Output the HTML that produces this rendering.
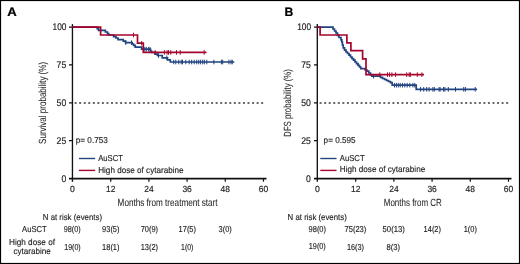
<!DOCTYPE html>
<html><head><meta charset="utf-8"><style>
html,body{margin:0;padding:0;background:#fff;}
svg{display:block;will-change:transform;}
text{text-rendering:geometricPrecision;font-family:"Liberation Sans", sans-serif;stroke:currentColor;}
</style></head><body>
<svg width="520" height="264" viewBox="0 0 520 264">
<rect x="0" y="0" width="520" height="264" fill="#fff"/>
<path d="M74.6 103H264.5" stroke="#3a3a3a" stroke-width="1.7" stroke-dasharray="2 2.55" fill="none"/>
<path d="M72.45 24.1V181.8" stroke="#111" stroke-width="1.35" fill="none"/>
<path d="M69 178.6H266.5" stroke="#111" stroke-width="1.55" fill="none"/>
<path d="M69 27.10H72.45M69 64.97H72.45M69 102.85H72.45M69 140.72H72.45M110.70 178.6V181.8M148.89 178.6V181.8M187.09 178.6V181.8M225.28 178.6V181.8M263.48 178.6V181.8" stroke="#111" stroke-width="1.2" fill="none"/>
<polyline points="72.50,27.10 97.20,27.10 97.20,28.60 98.50,28.60 98.50,30.30 105.40,30.30 105.40,32.00 107.50,32.00 107.50,33.60 108.70,33.60 108.70,35.00 113.60,35.00 113.60,36.60 116.00,36.60 116.00,38.00 118.00,38.00 118.00,39.60 123.30,39.60 123.30,41.20 125.50,41.20 125.50,42.70 132.20,42.70 132.20,44.00 133.60,44.00 133.60,45.30 135.20,45.30 135.20,47.10 141.60,47.10 141.60,49.20 150.50,49.20 150.50,51.00 151.50,51.00 151.50,52.40 155.00,52.40 155.00,54.20 157.40,54.20 157.40,55.50 162.30,55.50 162.30,57.80 167.50,57.80 167.50,59.80 170.30,59.80 170.30,62.00 234.30,62.00" stroke="#21437f" stroke-width="1.7" fill="none"/>
<path d="M125.80 40.40V45.00M131.50 40.40V45.00M144.80 46.90V51.50M146.30 46.90V51.50M148.60 46.90V51.50M150.00 46.90V51.50M158.50 53.20V57.80M166.80 55.50V60.10M173.75 59.70V64.30M175.80 59.70V64.30M178.75 59.70V64.30M181.25 59.70V64.30M182.50 59.70V64.30M185.80 59.70V64.30M189.20 59.70V64.30M191.70 59.70V64.30M194.20 59.70V64.30M196.70 59.70V64.30M198.75 59.70V64.30M200.60 59.70V64.30M202.70 59.70V64.30M204.30 59.70V64.30M206.80 59.70V64.30M213.90 59.70V64.30M221.40 59.70V64.30M222.70 59.70V64.30M228.90 59.70V64.30M231.00 59.70V64.30M232.25 59.70V64.30" stroke="#21437f" stroke-width="1" fill="none"/>
<polyline points="72.50,27.10 100.60,27.10 100.60,35.00 137.50,35.00 137.50,43.20 143.30,43.20 143.30,52.40 206.50,52.40" stroke="#a5052d" stroke-width="1.7" fill="none"/>
<path d="M133.50 32.70V37.30M141.70 40.90V45.50M155.20 50.10V54.70M164.40 50.10V54.70M167.10 50.10V54.70M168.50 50.10V54.70M170.80 50.10V54.70M176.50 50.10V54.70M180.20 50.10V54.70M204.20 50.10V54.70" stroke="#a5052d" stroke-width="1" fill="none"/>
<path d="M78.9 158.5H95.2" stroke="#21437f" stroke-width="1.4"/>
<path d="M78.9 170.4H95.2" stroke="#a5052d" stroke-width="1.4"/>
<path d="M319.6 103H509.5" stroke="#3a3a3a" stroke-width="1.7" stroke-dasharray="2 2.55" fill="none"/>
<path d="M317.3 24.1V181.8" stroke="#111" stroke-width="1.35" fill="none"/>
<path d="M314 178.6H511.5" stroke="#111" stroke-width="1.55" fill="none"/>
<path d="M314 27.10H317.3M314 64.97H317.3M314 102.85H317.3M314 140.72H317.3M355.70 178.6V181.8M393.89 178.6V181.8M432.09 178.6V181.8M470.28 178.6V181.8M508.48 178.6V181.8" stroke="#111" stroke-width="1.2" fill="none"/>
<polyline points="317.50,27.10 333.00,27.10 333.00,29.00 334.50,29.00 334.50,31.00 336.00,31.00 336.00,33.00 337.50,33.00 337.50,35.30 339.00,35.30 339.00,37.50 341.00,37.50 341.00,39.80 341.80,39.80 341.80,42.00 342.40,42.00 342.40,45.00 343.20,45.00 343.20,47.80 344.50,47.80 344.50,50.20 346.00,50.20 346.00,52.00 347.50,52.00 347.50,53.50 349.00,53.50 349.00,55.20 350.50,55.20 350.50,57.00 352.00,57.00 352.00,58.60 353.50,58.60 353.50,60.20 355.00,60.20 355.00,62.00 356.50,62.00 356.50,63.60 358.00,63.60 358.00,65.40 359.50,65.40 359.50,67.00 360.80,67.00 360.80,68.60 365.20,68.60 365.20,70.00 367.00,70.00 367.00,71.20 368.80,71.20 368.80,73.00 370.50,73.00 370.50,74.80 371.80,74.80 371.80,76.20 380.50,76.20 380.50,77.30 382.50,77.30 382.50,78.50 384.50,78.50 384.50,79.50 386.50,79.50 386.50,80.50 388.50,80.50 388.50,81.50 390.50,81.50 390.50,82.70 392.20,82.70 392.20,85.20 416.20,85.20 416.20,89.30 477.10,89.30" stroke="#21437f" stroke-width="1.7" fill="none"/>
<path d="M373.60 73.90V78.50M394.50 82.90V87.50M396.40 82.90V87.50M398.30 82.90V87.50M400.20 82.90V87.50M402.50 82.90V87.50M404.80 82.90V87.50M407.20 82.90V87.50M409.80 82.90V87.50M412.90 82.90V87.50M414.80 82.90V87.50M420.60 87.00V91.60M423.70 87.00V91.60M426.70 87.00V91.60M429.10 87.00V91.60M432.90 87.00V91.60M434.30 87.00V91.60M439.10 87.00V91.60M440.10 87.00V91.60M443.50 87.00V91.60M444.90 87.00V91.60M448.30 87.00V91.60M455.50 87.00V91.60M463.70 87.00V91.60M465.40 87.00V91.60M475.20 87.00V91.60" stroke="#21437f" stroke-width="1" fill="none"/>
<polyline points="317.50,27.10 320.10,27.10 320.10,35.00 346.90,35.00 346.90,42.90 350.90,42.90 350.90,50.60 362.60,50.60 362.60,58.90 366.00,58.90 366.00,74.65 424.00,74.65" stroke="#a5052d" stroke-width="1.7" fill="none"/>
<path d="M379.80 72.35V76.95M387.50 72.35V76.95M389.60 72.35V76.95M391.90 72.35V76.95M395.60 72.35V76.95M406.70 72.35V76.95M409.20 72.35V76.95M410.40 72.35V76.95M417.30 72.35V76.95M421.90 72.35V76.95" stroke="#a5052d" stroke-width="1" fill="none"/>
<path d="M320.3 158.5H336.5" stroke="#21437f" stroke-width="1.4"/>
<path d="M320.3 170.4H336.5" stroke="#a5052d" stroke-width="1.4"/>
<text x="7.3" y="16.1" font-size="12.2" stroke-width="0.2" textLength="9.5" lengthAdjust="spacingAndGlyphs" font-weight="bold" fill="#000" color="#000">A</text>
<text x="284.4" y="16.1" font-size="12.2" stroke-width="0.2" font-weight="bold" fill="#000" color="#000">B</text>
<text x="52.6" y="29.9" font-size="9.6" stroke-width="0.18" textLength="13.9" lengthAdjust="spacingAndGlyphs" fill="#231f20" color="#231f20">100</text>
<text x="56.6" y="67.7" font-size="9.6" stroke-width="0.18" textLength="9.6" lengthAdjust="spacingAndGlyphs" fill="#231f20" color="#231f20">75</text>
<text x="56.6" y="105.8" font-size="9.6" stroke-width="0.18" textLength="9.6" lengthAdjust="spacingAndGlyphs" fill="#231f20" color="#231f20">50</text>
<text x="56.6" y="143.5" font-size="9.6" stroke-width="0.18" textLength="9.6" lengthAdjust="spacingAndGlyphs" fill="#231f20" color="#231f20">25</text>
<text x="61.5" y="182.0" font-size="9.6" stroke-width="0.18" textLength="4.8" lengthAdjust="spacingAndGlyphs" fill="#231f20" color="#231f20">0</text>
<text x="70.1" y="192.3" font-size="8.9" stroke-width="0.18" textLength="4.8" lengthAdjust="spacingAndGlyphs" fill="#231f20" color="#231f20">0</text>
<text x="106.0" y="192.3" font-size="8.9" stroke-width="0.18" textLength="9.4" lengthAdjust="spacingAndGlyphs" fill="#231f20" color="#231f20">12</text>
<text x="144.19" y="192.3" font-size="8.9" stroke-width="0.18" textLength="9.4" lengthAdjust="spacingAndGlyphs" fill="#231f20" color="#231f20">24</text>
<text x="182.39" y="192.3" font-size="8.9" stroke-width="0.18" textLength="9.4" lengthAdjust="spacingAndGlyphs" fill="#231f20" color="#231f20">36</text>
<text x="220.58" y="192.3" font-size="8.9" stroke-width="0.18" textLength="9.4" lengthAdjust="spacingAndGlyphs" fill="#231f20" color="#231f20">48</text>
<text x="258.78" y="192.3" font-size="8.9" stroke-width="0.18" textLength="9.4" lengthAdjust="spacingAndGlyphs" fill="#231f20" color="#231f20">60</text>
<text x="297.2" y="29.9" font-size="9.6" stroke-width="0.18" textLength="13.9" lengthAdjust="spacingAndGlyphs" fill="#231f20" color="#231f20">100</text>
<text x="301.2" y="67.7" font-size="9.6" stroke-width="0.18" textLength="9.6" lengthAdjust="spacingAndGlyphs" fill="#231f20" color="#231f20">75</text>
<text x="301.2" y="105.8" font-size="9.6" stroke-width="0.18" textLength="9.6" lengthAdjust="spacingAndGlyphs" fill="#231f20" color="#231f20">50</text>
<text x="301.2" y="143.5" font-size="9.6" stroke-width="0.18" textLength="9.6" lengthAdjust="spacingAndGlyphs" fill="#231f20" color="#231f20">25</text>
<text x="306.1" y="182.0" font-size="9.6" stroke-width="0.18" textLength="4.8" lengthAdjust="spacingAndGlyphs" fill="#231f20" color="#231f20">0</text>
<text x="315.1" y="192.3" font-size="8.9" stroke-width="0.18" textLength="4.8" lengthAdjust="spacingAndGlyphs" fill="#231f20" color="#231f20">0</text>
<text x="351.0" y="192.3" font-size="8.9" stroke-width="0.18" textLength="9.4" lengthAdjust="spacingAndGlyphs" fill="#231f20" color="#231f20">12</text>
<text x="389.19" y="192.3" font-size="8.9" stroke-width="0.18" textLength="9.4" lengthAdjust="spacingAndGlyphs" fill="#231f20" color="#231f20">24</text>
<text x="427.39" y="192.3" font-size="8.9" stroke-width="0.18" textLength="9.4" lengthAdjust="spacingAndGlyphs" fill="#231f20" color="#231f20">36</text>
<text x="465.58" y="192.3" font-size="8.9" stroke-width="0.18" textLength="9.4" lengthAdjust="spacingAndGlyphs" fill="#231f20" color="#231f20">48</text>
<text x="503.78" y="192.3" font-size="8.9" stroke-width="0.18" textLength="9.4" lengthAdjust="spacingAndGlyphs" fill="#231f20" color="#231f20">60</text>
<text x="45.8" y="143.9" font-size="10.4" stroke-width="0.05" textLength="82" lengthAdjust="spacingAndGlyphs" transform="rotate(-90 45.8 143.9)" fill="#231f20" color="#231f20">Survival probability (%)</text>
<text x="291.2" y="136.9" font-size="10.4" stroke-width="0.05" textLength="67.8" lengthAdjust="spacingAndGlyphs" transform="rotate(-90 291.2 136.9)" fill="#231f20" color="#231f20">DFS probability (%)</text>
<text x="117.6" y="206.3" font-size="10.4" stroke-width="0.05" textLength="100" lengthAdjust="spacingAndGlyphs" fill="#231f20" color="#231f20">Months from treatment start</text>
<text x="383.8" y="206.3" font-size="10.4" stroke-width="0.05" textLength="58" lengthAdjust="spacingAndGlyphs" fill="#231f20" color="#231f20">Months from CR</text>
<text x="75.8" y="142.9" font-size="8.6" stroke-width="0.15" textLength="32" lengthAdjust="spacingAndGlyphs" fill="#231f20" color="#231f20">p= 0.753</text>
<text x="323.6" y="142.8" font-size="8.6" stroke-width="0.15" textLength="32" lengthAdjust="spacingAndGlyphs" fill="#231f20" color="#231f20">p= 0.595</text>
<text x="98.2" y="160.6" font-size="8.6" stroke-width="0.15" textLength="24.8" lengthAdjust="spacingAndGlyphs" fill="#231f20" color="#231f20">AuSCT</text>
<text x="98.2" y="172.6" font-size="8.6" stroke-width="0.15" textLength="85.4" lengthAdjust="spacingAndGlyphs" fill="#231f20" color="#231f20">High dose of cytarabine</text>
<text x="339.8" y="160.5" font-size="8.6" stroke-width="0.15" textLength="24.8" lengthAdjust="spacingAndGlyphs" fill="#231f20" color="#231f20">AuSCT</text>
<text x="339.8" y="172.3" font-size="8.6" stroke-width="0.15" textLength="85.4" lengthAdjust="spacingAndGlyphs" fill="#231f20" color="#231f20">High dose of cytarabine</text>
<text x="42.8" y="219.8" font-size="8.6" stroke-width="0.15" textLength="59.2" lengthAdjust="spacingAndGlyphs" fill="#231f20" color="#231f20">N at risk (events)</text>
<text x="287.6" y="219.6" font-size="8.6" stroke-width="0.15" textLength="59.2" lengthAdjust="spacingAndGlyphs" fill="#231f20" color="#231f20">N at risk (events)</text>
<text x="22.1" y="232.2" font-size="8.6" stroke-width="0.15" textLength="24.6" lengthAdjust="spacingAndGlyphs" fill="#231f20" color="#231f20">AuSCT</text>
<text x="9.0" y="244.8" font-size="8.6" stroke-width="0.15" textLength="46" lengthAdjust="spacingAndGlyphs" fill="#231f20" color="#231f20">High dose of</text>
<text x="13.5" y="254.3" font-size="8.6" stroke-width="0.15" textLength="37.3" lengthAdjust="spacingAndGlyphs" fill="#231f20" color="#231f20">cytarabine</text>
<text x="63.8" y="232.3" font-size="8.6" stroke-width="0.15" textLength="16.9" lengthAdjust="spacingAndGlyphs" fill="#231f20" color="#231f20">98(0)</text>
<text x="102.1" y="232.3" font-size="8.6" stroke-width="0.15" textLength="17.4" lengthAdjust="spacingAndGlyphs" fill="#231f20" color="#231f20">93(5)</text>
<text x="140.7" y="232.3" font-size="8.6" stroke-width="0.15" textLength="17.4" lengthAdjust="spacingAndGlyphs" fill="#231f20" color="#231f20">70(9)</text>
<text x="178.6" y="232.3" font-size="8.6" stroke-width="0.15" textLength="17.4" lengthAdjust="spacingAndGlyphs" fill="#231f20" color="#231f20">17(5)</text>
<text x="218.6" y="232.3" font-size="8.6" stroke-width="0.15" textLength="13.2" lengthAdjust="spacingAndGlyphs" fill="#231f20" color="#231f20">3(0)</text>
<text x="64.3" y="250.0" font-size="8.6" stroke-width="0.15" textLength="16.4" lengthAdjust="spacingAndGlyphs" fill="#231f20" color="#231f20">19(0)</text>
<text x="102.1" y="250.0" font-size="8.6" stroke-width="0.15" textLength="17.4" lengthAdjust="spacingAndGlyphs" fill="#231f20" color="#231f20">18(1)</text>
<text x="140.7" y="250.0" font-size="8.6" stroke-width="0.15" textLength="17.4" lengthAdjust="spacingAndGlyphs" fill="#231f20" color="#231f20">13(2)</text>
<text x="181.1" y="250.0" font-size="8.6" stroke-width="0.15" textLength="12.2" lengthAdjust="spacingAndGlyphs" fill="#231f20" color="#231f20">1(0)</text>
<text x="308.6" y="232.2" font-size="8.6" stroke-width="0.15" textLength="17.4" lengthAdjust="spacingAndGlyphs" fill="#231f20" color="#231f20">98(0)</text>
<text x="344.5" y="232.2" font-size="8.6" stroke-width="0.15" textLength="21.8" lengthAdjust="spacingAndGlyphs" fill="#231f20" color="#231f20">75(23)</text>
<text x="382.6" y="232.2" font-size="8.6" stroke-width="0.15" textLength="22.2" lengthAdjust="spacingAndGlyphs" fill="#231f20" color="#231f20">50(13)</text>
<text x="423.6" y="232.2" font-size="8.6" stroke-width="0.15" textLength="17.4" lengthAdjust="spacingAndGlyphs" fill="#231f20" color="#231f20">14(2)</text>
<text x="463.7" y="232.2" font-size="8.6" stroke-width="0.15" textLength="13.2" lengthAdjust="spacingAndGlyphs" fill="#231f20" color="#231f20">1(0)</text>
<text x="308.8" y="248.6" font-size="8.6" stroke-width="0.15" textLength="17" lengthAdjust="spacingAndGlyphs" fill="#231f20" color="#231f20">19(0)</text>
<text x="347" y="249.9" font-size="8.6" stroke-width="0.15" textLength="17" lengthAdjust="spacingAndGlyphs" fill="#231f20" color="#231f20">16(3)</text>
<text x="386.5" y="249.9" font-size="8.6" stroke-width="0.15" textLength="13.5" lengthAdjust="spacingAndGlyphs" fill="#231f20" color="#231f20">8(3)</text>
<rect x="0.5" y="0.5" width="519" height="263" fill="none" stroke="#000" stroke-width="1.2"/>
</svg>
</body></html>
